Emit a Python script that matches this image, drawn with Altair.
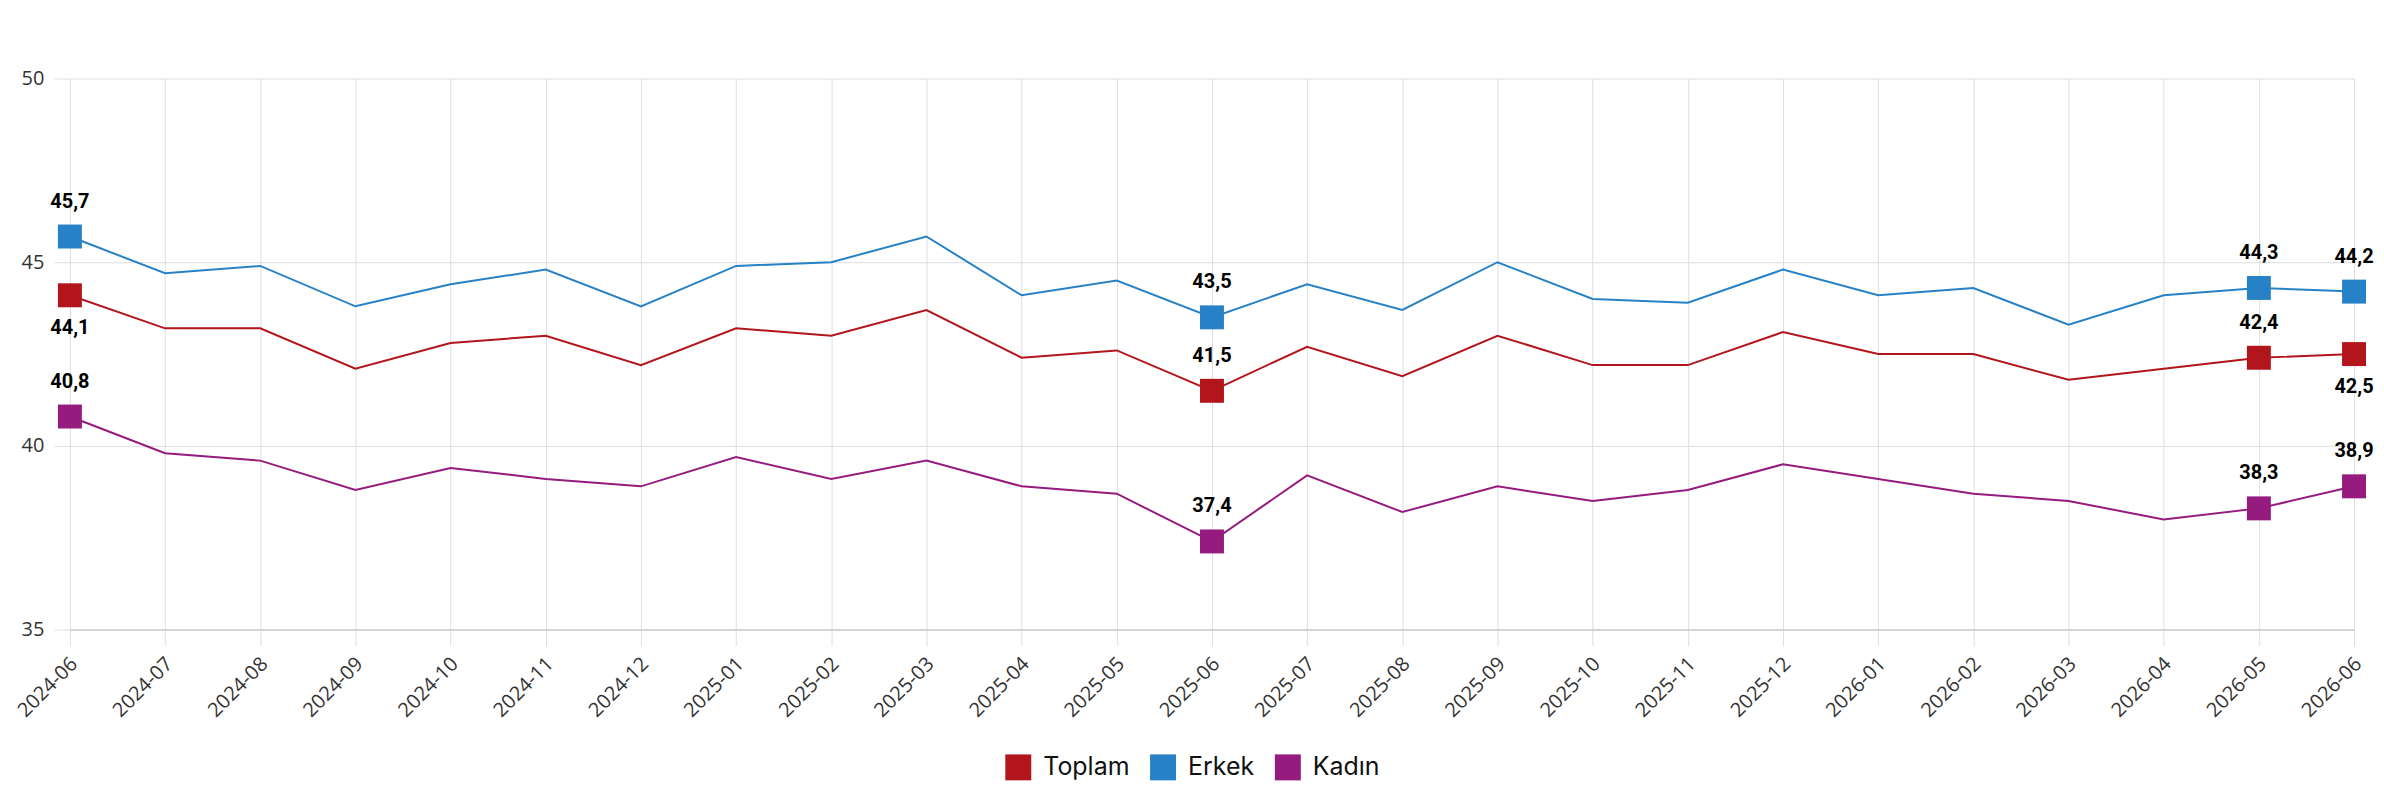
import altair as alt
import pandas as pd

months = ["2024-06", "2024-07", "2024-08", "2024-09", "2024-10", "2024-11", "2024-12",
          "2025-01", "2025-02", "2025-03", "2025-04", "2025-05", "2025-06", "2025-07",
          "2025-08", "2025-09", "2025-10", "2025-11", "2025-12", "2026-01", "2026-02",
          "2026-03", "2026-04", "2026-05", "2026-06"]

series_names = ["Toplam", "Erkek", "Kadın"]
series_colors = ["#b2151b", "#2681c6", "#961b7e"]

toplam = [44.1, 43.2, 43.2, 42.1, 42.8, 43.0, 42.2, 43.2, 43.0, 43.7, 42.4, 42.6, 41.5,
          42.7, 41.9, 43.0, 42.2, 42.2, 43.1, 42.5, 42.5, 41.8, 42.1, 42.4, 42.5]
erkek = [45.7, 44.7, 44.9, 43.8, 44.4, 44.8, 43.8, 44.9, 45.0, 45.7, 44.1, 44.5, 43.5,
         44.4, 43.7, 45.0, 44.0, 43.9, 44.8, 44.1, 44.3, 43.3, 44.1, 44.3, 44.2]
kadin = [40.8, 39.8, 39.6, 38.8, 39.4, 39.1, 38.9, 39.7, 39.1, 39.6, 38.9, 38.7, 37.4,
         39.2, 38.2, 38.9, 38.5, 38.8, 39.5, 39.1, 38.7, 38.5, 38.0, 38.3, 38.9]

# months that carry a marker and a value label
marked_months = ["2024-06", "2025-06", "2026-05", "2026-06"]
# Toplam labels drawn below the marker
toplam_below = ["2024-06", "2026-06"]

rows = []
for name, vals in zip(series_names, [toplam, erkek, kadin]):
    for m, v in zip(months, vals):
        rows.append({
            "month": m,
            "series": name,
            "value": v,
            "marked": m in marked_months,
            "below": (name == "Toplam" and m in toplam_below),
        })
df = pd.DataFrame(rows)

color_scale = alt.Scale(domain=series_names, range=series_colors)

GRID = "#dedede"

x_enc = alt.X(
    "month:N", sort=months, title=None,
    scale=alt.Scale(padding=0),
    axis=alt.Axis(
        labelAngle=-45, labelAlign="right", labelBaseline="middle",
        labelFont="Open Sans", labelFontSize=20, labelColor="#333333",
        labelPadding=15, labelOffset=4,
        grid=True, gridColor=GRID, gridWidth=1,
        tickColor=GRID, tickSize=16, tickWidth=1,
        domainColor="#c8cbd0", domainWidth=1.5,
    ),
)
y_enc = alt.Y(
    "value:Q", title=None,
    scale=alt.Scale(domain=[35, 50], nice=False, zero=False),
    axis=alt.Axis(
        values=[35, 40, 45, 50],
        labelFont="Open Sans", labelFontSize=20, labelColor="#333333",
        labelPadding=10,
        grid=True, gridColor=GRID, gridWidth=1,
        tickColor=GRID, tickSize=16, tickWidth=1,
        domain=False,
    ),
)

base = alt.Chart(df)

line_layers = []
for name, col in zip(series_names, series_colors):
    line_layers.append(
        base.transform_filter(alt.datum.series == name)
        .mark_line(strokeWidth=2, color=col)
        .encode(x=x_enc, y=y_enc)
    )

points = base.transform_filter("datum.marked").mark_point(
    shape="square", filled=True, size=576, opacity=1
).encode(
    x=x_enc, y=y_enc,
    color=alt.Color(
        "series:N", scale=color_scale, sort=series_names,
        legend=alt.Legend(
            title=None, orient="none", direction="horizontal",
            legendX=937, legendY=677,
            symbolType="square", symbolSize=676, symbolStrokeWidth=0,
            symbolOpacity=1,
            labelFont="Inter", labelFontSize=25, labelColor="#111111",
            labelOffset=12, columnPadding=20,
        ),
    ),
)

label_expr = "replace(format(datum.value, '.1f'), '.', ',')"

labels_above = base.transform_filter("datum.marked && !datum.below").transform_calculate(
    txt=label_expr
).mark_text(
    font="Roboto", fontSize=20, fontWeight="bold", color="#000000",
    baseline="middle", dy=-35,
).encode(x=x_enc, y=y_enc, text="txt:N")

labels_below = base.transform_filter("datum.marked && datum.below").transform_calculate(
    txt=label_expr
).mark_text(
    font="Roboto", fontSize=20, fontWeight="bold", color="#000000",
    baseline="middle", dy=33,
).encode(x=x_enc, y=y_enc, text="txt:N")

chart = alt.layer(*line_layers, points, labels_above, labels_below).properties(
    width=2288, height=552,
    autosize=alt.AutoSizeParams(type="none"),
    padding={"left": 62, "top": 70, "right": 22, "bottom": 160},
).configure_view(stroke=None)

chart.save("out.html", embed_options={"renderer": "svg", "actions": False})
